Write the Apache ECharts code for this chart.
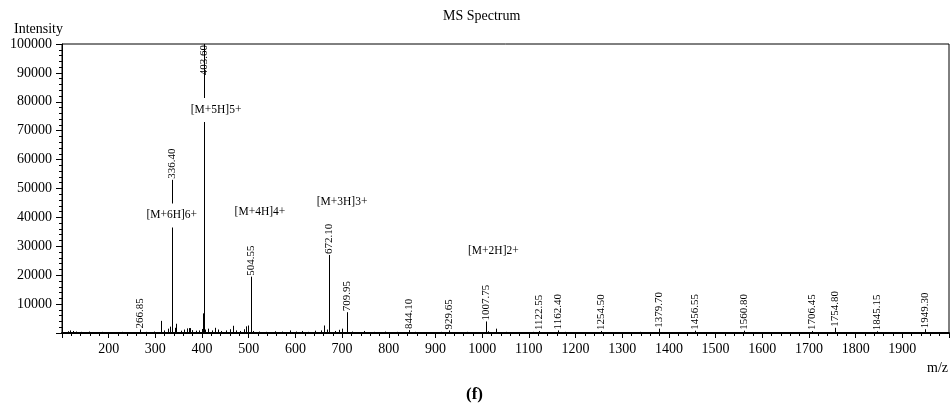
<!DOCTYPE html>
<html><head><meta charset="utf-8">
<script src="https://cdn.jsdelivr.net/npm/echarts@6/dist/echarts.min.js"></script>
<style>html,body{margin:0;padding:0;background:#fff}#c{width:951px;height:409px}</style>
</head><body><div id="c"></div>
<script>
// Labelled peaks
const peakMz = [266.85, 336.40, 403.60, 504.55, 672.10, 709.95, 844.10, 929.65, 1007.75, 1122.55, 1162.40, 1254.50, 1379.70, 1456.55, 1560.80, 1706.45, 1754.80, 1845.15, 1949.30];
const peakIntensity = [1200, 53000, 100000, 19500, 27000, 7200, 1000, 900, 4000, 700, 900, 700, 1500, 800, 800, 700, 1800, 600, 1300];
const peakLabels = ['266.85', '336.40', '403.60', '504.55', '672.10', '709.95', '844.10', '929.65', '1007.75', '1122.55', '1162.40', '1254.50', '1379.70', '1456.55', '1560.80', '1706.45', '1754.80', '1845.15', '1949.30'];
// Unlabelled minor peaks
const noiseMz = [112, 118, 124, 131, 140, 158, 172, 186, 205, 228, 251, 279, 296, 311, 318, 327, 331, 341, 344, 355, 362, 368, 371, 374, 379, 388, 394, 399, 401.8, 407, 413, 421, 428, 434, 441, 451, 460, 466, 472, 481, 489, 494, 498, 509, 522, 538, 556, 571, 588, 601, 614, 627, 641, 655, 662, 667, 684, 694, 699, 722, 746, 768, 791, 818, 857, 884, 911, 947, 968, 992, 1013, 1029, 1052, 1087, 1109, 1146, 1178, 1205, 1236, 1271, 1305, 1338, 1362, 1402, 1437, 1478, 1512, 1541, 1586, 1623, 1658, 1689, 1722, 1781, 1816, 1867, 1893, 1928, 1972];
const noiseIntensity = [600, 900, 700, 500, 400, 500, 300, 400, 300, 400, 300, 400, 500, 4200, 900, 1500, 2200, 1800, 3200, 800, 1200, 1600, 1700, 1700, 1000, 800, 900, 1400, 6800, 1200, 1500, 900, 1800, 1200, 700, 900, 1300, 2500, 900, 700, 1300, 2300, 2600, 700, 500, 400, 600, 500, 900, 500, 700, 400, 800, 900, 2600, 1200, 700, 1100, 1500, 500, 700, 400, 500, 400, 400, 300, 400, 300, 400, 300, 600, 1500, 400, 300, 400, 300, 400, 300, 300, 300, 300, 400, 300, 300, 300, 300, 300, 300, 300, 300, 300, 300, 300, 300, 300, 300, 300, 300, 300];
// Ion annotations
const ionLabels = ['[M+6H]6+', '[M+5H]5+', '[M+4H]4+', '[M+3H]3+', '[M+2H]2+'];
const ionMz = [335, 430, 524, 700, 1024];
const ionIntensity = [40700, 77200, 42000, 45500, 28300];

const FONT = '"Liberation Serif", "Times New Roman", serif';

function renderPeak(withLabel) {
  return function (params, api) {
    const x = api.value(0), v = api.value(1);
    const base = api.coord([x, 0]);
    const top = api.coord([x, v]);
    const cs = params.coordSys;
    const px = Math.round(base[0]) + 0.5;
    const children = [{
      type: 'line',
      shape: { x1: px, y1: base[1], x2: px, y2: Math.max(top[1], cs.y) },
      style: { stroke: '#000', lineWidth: 1 }
    }];
    if (withLabel) {
      const clipped = top[1] <= cs.y + 1;
      children.push({
        type: 'text',
        x: px, y: clipped ? cs.y + 1 : top[1] - 1,
        rotation: Math.PI / 2,
        style: {
          text: peakLabels[params.dataIndex],
          font: '11px ' + FONT, fill: '#000',
          align: clipped ? 'right' : 'left', verticalAlign: 'middle'
        }
      });
    }
    return { type: 'group', children: children };
  };
}

function renderIon(params, api) {
  const p = api.coord([api.value(0), api.value(1)]);
  return {
    type: 'text', x: p[0], y: p[1],
    style: {
      text: ionLabels[params.dataIndex], font: '11.5px ' + FONT, fill: '#000',
      align: 'center', verticalAlign: 'middle',
      backgroundColor: '#fff', padding: [5, 2, 7, 2]
    },
    z2: 10
  };
}

const plain = v => String(v);

const chart = echarts.init(document.getElementById('c'), null, { renderer: 'canvas' });
chart.setOption({
  animation: false,
  backgroundColor: '#fff',
  title: {
    text: 'MS Spectrum', left: 438, top: 4,
    textStyle: { fontFamily: FONT, fontSize: 14, fontWeight: 'normal', color: '#000' }
  },
  grid: { left: 62, right: 2, top: 44, bottom: 76, show: true, borderColor: '#000', borderWidth: 1, backgroundColor: 'transparent' },
  xAxis: [{
    type: 'value', min: 100, max: 2000, interval: 100,
    axisLine: { show: true, onZero: false, lineStyle: { color: '#000', width: 1 } },
    axisTick: { show: true, inside: false, length: 5, lineStyle: { color: '#000' } },
    minorTick: { show: true, splitNumber: 5, length: 3, lineStyle: { color: '#000' } },
    splitLine: { show: false },
    axisLabel: { showMinLabel: false, showMaxLabel: false, margin: 9, color: '#000', fontFamily: FONT, fontSize: 14, formatter: plain }
  }, {
    type: 'value', position: 'top', min: 100, max: 2000,
    axisLine: { show: true, lineStyle: { color: '#000', width: 2 } },
    axisTick: { show: false }, axisLabel: { show: false }, splitLine: { show: false }
  }],
  yAxis: {
    type: 'value', min: 0, max: 100000, interval: 10000,
    name: 'Intensity', nameLocation: 'end', nameGap: 8,
    nameTextStyle: { fontFamily: FONT, fontSize: 14, color: '#000', align: 'right', padding: [0, -1, 0, 0] },
    axisLine: { show: true, lineStyle: { color: '#000', width: 1 } },
    axisTick: { show: true, inside: false, length: 6, lineStyle: { color: '#000' } },
    minorTick: { show: true, splitNumber: 5, length: 3, lineStyle: { color: '#000' } },
    splitLine: { show: false },
    axisLabel: { showMinLabel: false, margin: 10, color: '#000', fontFamily: FONT, fontSize: 14, formatter: plain }
  },
  graphic: [
    { type: 'text', right: 3, top: 361, style: { text: 'm/z', font: '14px ' + FONT, fill: '#000' } },
    { type: 'text', left: 466, top: 386, style: { text: '(f)', font: 'bold 17px ' + FONT, fill: '#000' } }
  ],
  series: [
    {
      type: 'custom', name: 'noise', clip: true,
      data: noiseMz.map((m, i) => [m, noiseIntensity[i]]),
      renderItem: renderPeak(false), encode: { x: 0, y: 1 }
    },
    {
      type: 'custom', name: 'peaks', clip: false,
      data: peakMz.map((m, i) => [m, peakIntensity[i]]),
      renderItem: renderPeak(true), encode: { x: 0, y: 1 }
    },
    {
      type: 'custom', name: 'ions', z: 5,
      data: ionMz.map((m, i) => [m, ionIntensity[i]]),
      renderItem: renderIon, encode: { x: 0, y: 1 }
    }
  ]
});
</script>
</body></html>
